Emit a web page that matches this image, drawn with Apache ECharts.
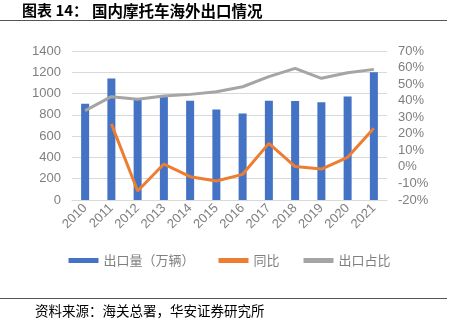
<!DOCTYPE html>
<html>
<head>
<meta charset="utf-8">
<script src="https://cdn.jsdelivr.net/npm/echarts@6/dist/echarts.min.js"></script>
<style>
  html, body { margin: 0; padding: 0; background: #fff; }
  #chart { width: 459px; height: 323px; }
</style>
</head>
<body>
<div id="chart"></div>
<script>
// Motorcycle export data, 2010–2021
const years = ['2010','2011','2012','2013','2014','2015','2016','2017','2018','2019','2020','2021'];
const exportVolume = [905, 1142, 955, 970, 932, 850, 813, 932, 930, 918, 972, 1200];   // 万辆
const yoyGrowth = [null, 26, -14.6, 1.7, -5.9, -8.5, -4.5, 14.2, 0.2, -1.3, 5.8, 23.3]; // %
const exportShare = [34, 42.4, 40.8, 42.8, 43.8, 45.4, 48.4, 54.5, 59.5, 53.5, 56.9, 58.9]; // %
const leftTicks = { min: 0, max: 1400, interval: 200 };
const rightTicks = { min: -20, max: 70, interval: 10 };

const axisFont = { color: '#7f7f7f', fontSize: 13, fontFamily: 'Liberation Sans, Arial, sans-serif' };
const cjk = '"Noto Sans CJK SC", sans-serif';

const chart = echarts.init(document.getElementById('chart'), null, { renderer: 'canvas' });
chart.setOption({
  animation: false,
  backgroundColor: '#fff',
  grid: { left: 72, right: 72, top: 51, bottom: 123, containLabel: false },
  graphic: [
    { type: 'text', left: 22, top: 3, style: { text: '图表 14：', font: 'bold 15px ' + cjk, fill: '#000' } },
    { type: 'text', left: 92, top: 3, style: { text: '国内摩托车海外出口情况', font: 'bold 15.5px ' + cjk, fill: '#000' } },
    { type: 'line', shape: { x1: 0, y1: 20.5, x2: 447, y2: 20.5 }, style: { stroke: '#555', lineWidth: 1 } },
    { type: 'line', shape: { x1: 0, y1: 298.5, x2: 447, y2: 298.5 }, style: { stroke: '#555', lineWidth: 1 } },
    { type: 'text', left: 35, top: 304, style: { text: '资料来源：海关总署，华安证券研究所', font: '13.5px ' + cjk, fill: '#000' } }
  ],
  legend: {
    bottom: 51,
    left: 'center',
    itemGap: 24,
    itemWidth: 30,
    itemHeight: 5,
    textStyle: { color: '#7f7f7f', fontSize: 13, fontFamily: cjk },
    data: [
      { name: '出口量（万辆）', icon: 'rect' },
      { name: '同比', icon: 'rect', itemStyle: { color: '#ED7D31' } },
      { name: '出口占比', icon: 'rect', itemStyle: { color: '#A5A5A5' } }
    ]
  },
  xAxis: {
    type: 'category',
    data: years,
    axisTick: { show: false },
    axisLine: { show: true, lineStyle: { color: '#d9d9d9' } },
    axisLabel: Object.assign({ rotate: 45, margin: 6, interval: 0 }, axisFont)
  },
  yAxis: [
    {
      type: 'value',
      min: leftTicks.min, max: leftTicks.max, interval: leftTicks.interval,
      axisLine: { show: false }, axisTick: { show: false },
      splitLine: { lineStyle: { color: '#d9d9d9' } },
      axisLabel: Object.assign({ margin: 11, formatter: v => String(v) }, axisFont)
    },
    {
      type: 'value',
      min: rightTicks.min, max: rightTicks.max, interval: rightTicks.interval,
      axisLine: { show: false }, axisTick: { show: false },
      splitLine: { show: false },
      axisLabel: Object.assign({ margin: 11, formatter: '{value}%' }, axisFont)
    }
  ],
  series: [
    {
      name: '出口量（万辆）', type: 'bar', data: exportVolume, barWidth: 8,
      itemStyle: { color: '#4472C4' }
    },
    {
      name: '同比', type: 'line', yAxisIndex: 1, data: yoyGrowth,
      symbol: 'none', lineStyle: { color: '#ED7D31', width: 3 }, itemStyle: { color: '#ED7D31' }
    },
    {
      name: '出口占比', type: 'line', yAxisIndex: 1, data: exportShare,
      symbol: 'none', lineStyle: { color: '#A5A5A5', width: 3 }, itemStyle: { color: '#A5A5A5' }
    }
  ]
});
</script>
</body>
</html>
